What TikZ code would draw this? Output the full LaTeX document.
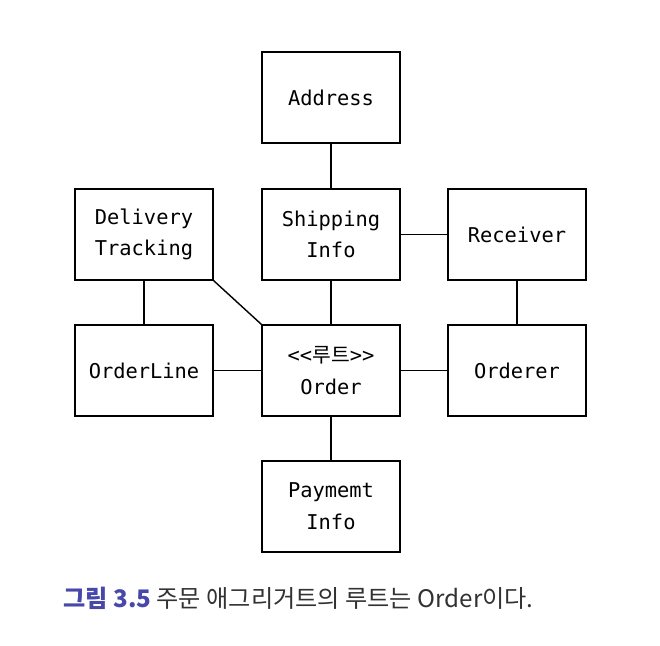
\documentclass[tikz,border=0pt]{standalone}
\usepackage{fontspec}
\setmonofont{DejaVu Sans Mono}
\newfontfamily\krfont{Noto Sans CJK KR}
\definecolor{capblue}{RGB}{72,72,170}
\definecolor{capgray}{RGB}{50,50,50}
\tikzset{
  entity/.style={draw, rectangle, line width=1pt, minimum width=3.45cm, minimum height=2.275cm,
    align=center, font=\ttfamily\fontsize{14.5}{22.5}\selectfont},
  link/.style={line width=1pt}
}
\begin{document}
\begin{tikzpicture}
        \useasboundingbox (0,0) rectangle (16.5,16.15);
        \node[entity] (addr) at (8.275,13.7125) {Address};
        \node[entity] (track) at (3.6,10.2875) {Delivery\\Tracking};
        \node[entity] (ship) at (8.275,10.2875) {Shipping\\Info};
        \node[entity] (recv) at (12.925,10.2875) {Receiver};
        \node[entity] (line) at (3.6,6.8875) {OrderLine};
        \node[entity] (order) at (8.275,6.8875) {<<{\krfont 루트}>>\\Order};
        \node[entity] (orderer) at (12.925,6.8875) {Orderer};
        \node[entity] (pay) at (8.275,3.4875) {Paymemt\\Info};
        
        \draw[link] (addr) -- (ship);
        \draw[link] (ship) -- (recv);
        \draw[link] (ship) -- (order);
        \draw[link] (recv) -- (orderer);
        \draw[link] (track) -- (line);
        \draw[link] (track.south east) -- (order.north west);
        \draw[link] (line) -- (order);
        \draw[link] (order) -- (orderer);
        \draw[link] (order) -- (pay);
        
        % caption
        \node[anchor=base west, inner sep=0, font=\krfont\fontsize{17.2}{20}\selectfont] (cap) at (1.575,0.95)
          {\textcolor{capblue}{\bfseries 그림 3.5}~\textcolor{capgray}{주문 애그리거트의 루트는 Order이다.}};
    \end{tikzpicture}
\end{document}
